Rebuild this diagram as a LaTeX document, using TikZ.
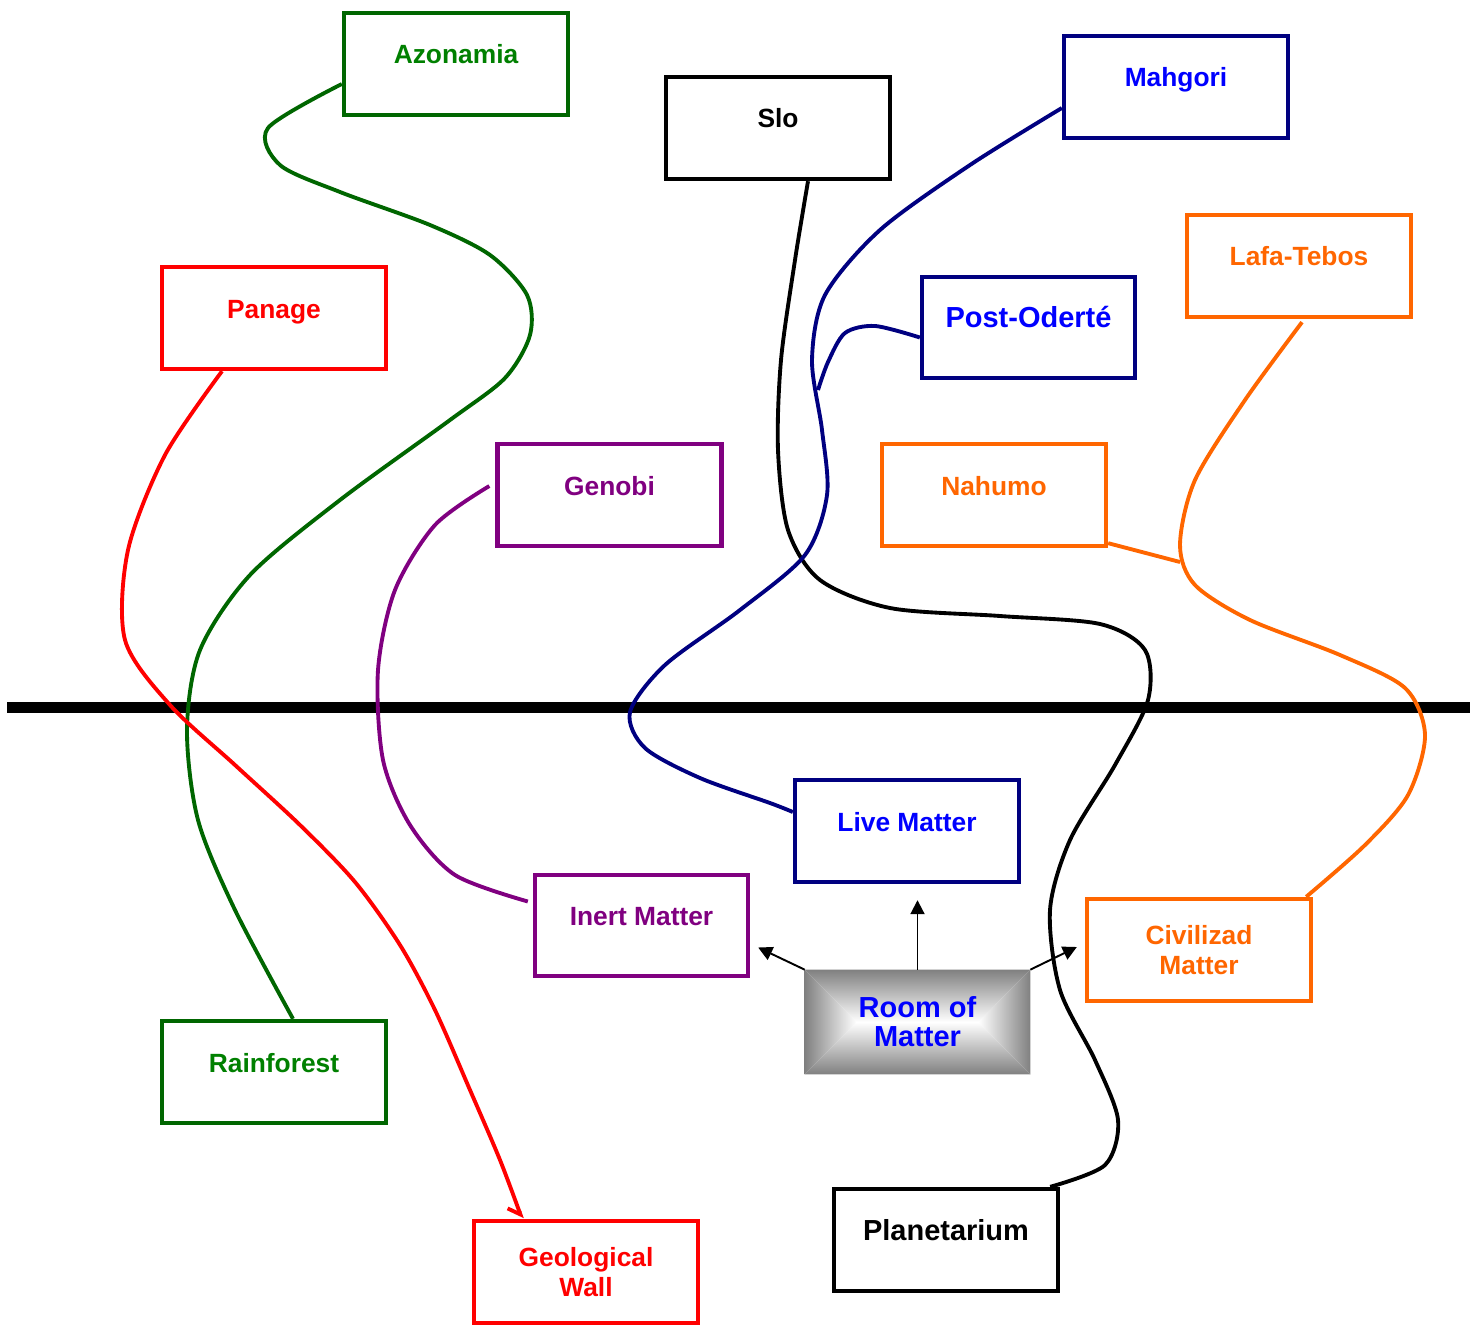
\documentclass[tikz,border=0pt]{standalone}
\usepackage{fontspec}
\setmainfont{Liberation Sans}
\setsansfont{Liberation Sans}
\usetikzlibrary{arrows.meta, calc, backgrounds}
\definecolor{cgreen}{RGB}{0,128,0}
\definecolor{cdgreen}{RGB}{0,102,0}
\definecolor{cnavy}{RGB}{0,0,128}
\definecolor{cblue}{RGB}{0,0,255}
\definecolor{cred}{RGB}{255,0,0}
\definecolor{corange}{RGB}{255,102,0}
\definecolor{cpurple}{RGB}{128,0,128}
\definecolor{cgrey}{RGB}{128,128,128}
\tikzset{
  every picture/.style={x=0.02cm, y=-0.02cm},
  frame/.style 2 args={draw=#1, text=#2, fill=white, line width=2.5pt, minimum width=4.48cm, minimum height=2.04cm,
    inner sep=0pt, align=center, font=\sffamily\bfseries\fontsize{15}{17}\selectfont},
  box/.style 2 args={frame={#1}{#2}, text height=1em, text depth=1em},
  narrow/.style={minimum width=4.26cm, minimum height=2.02cm},
  big/.style={font=\sffamily\bfseries\fontsize{16.5}{16.5}\selectfont},
  room/.style={minimum width=4.5cm, minimum height=2.08cm, inner sep=0pt, align=center, text=cblue, big},
  wire/.style={draw=#1, line width=2.2pt},
  arrow/.style={-{Triangle[length=0.28cm, width=0.28cm]}, line width=1.1pt},
}
\begin{document}
\begin{tikzpicture}
  \useasboundingbox (0,0) rectangle (1479,1324);
  % divider
  \coordinate (barL) at (7,707.5);
  \coordinate (barR) at (1470,707.5);
  \draw[line width=0.23cm] (barL) -- (barR);
  % upper boxes
  \node[box={cdgreen}{cgreen}] (azo) at (456,64) {Azonamia};
  \node[box={black}{black}] (slo) at (778,128) {Slo};
  \node[box={cnavy}{cblue}] (mah) at (1176,87) {Mahgori};
  \node[box={cred}{cred}] (pan) at (274,318) {Panage};
  \node[box={corange}{corange}] (lafa) at (1299,266) {Lafa-Tebos};
  \node[box={cnavy}{cblue}, narrow, big] (post) at (1028.5,327.5) {Post-Oderté};
  \node[box={cpurple}{cpurple}] (gen) at (609.5,495) {Genobi};
  \node[box={corange}{corange}] (nah) at (994,495) {Nahumo};
  % lower boxes
  \node[box={cnavy}{cblue}] (live) at (907,831) {Live Matter};
  \node[box={cpurple}{cpurple}, narrow] (inert) at (641.5,925.5) {Inert Matter};
  \node[frame={corange}{corange}] (civ) at (1199,950) {Civilizad\\Matter};
  \node[box={cdgreen}{cgreen}] (rain) at (274,1072) {Rainforest};
  \node[box={black}{black}, big] (plan) at (946,1240) {Planetarium};
  \node[frame={cred}{cred}] (geo) at (586,1272) {Geological\\Wall};
  \node[room] (room) at (917.5,1022) {Room of\\Matter};
  \begin{scope}[on background layer]
    \coordinate (roomL) at ($(room.west)+(52,0)$);
    \coordinate (roomR) at ($(room.east)+(-52,0)$);
    \shade[top color=cgrey, bottom color=white] (room.north west) -- (room.north east) -- (roomR) -- (roomL) -- cycle;
    \shade[top color=white, bottom color=cgrey] (room.south west) -- (room.south east) -- (roomR) -- (roomL) -- cycle;
    \shade[left color=cgrey, right color=white] (room.north west) -- (roomL) -- (room.south west) -- cycle;
    \shade[left color=white, right color=cgrey] (room.north east) -- (roomR) -- (room.south east) -- cycle;
  \end{scope}
  % green
  \coordinate (azoOut) at ($(azo.west)+(0,20)$);
  \coordinate (rainIn) at ($(rain.north)+(19,0)$);
  \draw[wire=cdgreen] plot[smooth] coordinates {(azoOut) (268,128) (280,165) (340,192) (430,225) (490,255)
    (527,295) (530,335) (505,378) (450,420) (340,500) (250,575) (200,650) (187,730) (198,820) (235,910) (rainIn)};
  % red
  \coordinate (panOut) at ($(pan.south)+(-52,0)$);
  \coordinate (geoIn) at ($(geo.north)+(-64,0)$);
  \draw[wire=cred, -{Straight Barb[right, length=0.2cm, width=0.4cm]}] plot[smooth] coordinates {(panOut) (165,455)
    (128,550) (125,640) (170,705) (235,765) (300,825) (355,882) (400,945) (435,1010) (470,1090) (500,1160) (geoIn)};
  % purple
  \coordinate (genOut) at ($(gen.west)+(-6,-9)$);
  \coordinate (inertIn) at ($(inert.west)+(-5,-24)$);
  \draw[wire=cpurple] plot[smooth] coordinates {(genOut) (435,525) (395,590) (378,670) (383,760) (410,825)
    (455,875) (inertIn)};
  % black
  \coordinate (sloOut) at ($(slo.south)+(30,0)$);
  \coordinate (planIn) at ($(plan.north east)+(-10,0)$);
  \draw[wire=black] plot[smooth] coordinates {(sloOut) (795,260) (781,360) (778,450) (788,530) (820,580)
    (890,608) (1000,616) (1100,624) (1145,650) (1148,700) (1115,765) (1070,840) (1050,910) (1060,990)
    (1095,1060) (1118,1120) (1105,1165) (planIn)};
  % navy
  \coordinate (mahOut) at ($(mah.west)+(0,21)$);
  \coordinate (liveIn) at ($(live.west)+(0,-19)$);
  \draw[wire=cnavy] plot[smooth] coordinates {(mahOut) (970,165) (880,230) (825,295) (812,360) (822,430)
    (827,495) (805,555) (740,610) (665,665) (630,712) (645,748) (700,778) (770,803) (liveIn)};
  \coordinate (postOut) at ($(post.west)+(0,10)$);
  \coordinate (mahJoin) at (818,390);
  \draw[wire=cnavy] plot[smooth] coordinates {(postOut) (875,326) (845,333) (828,362) (mahJoin)};
  % orange
  \coordinate (lafaOut) at ($(lafa.south)+(3,3)$);
  \coordinate (civIn) at ($(civ.north east)+(-7,0)$);
  \draw[wire=corange] plot[smooth] coordinates {(lafaOut) (1245,400) (1195,480) (1180,545) (1195,585)
    (1250,620) (1340,655) (1405,688) (1425,735) (1408,795) (1365,845) (civIn)};
  \coordinate (nahOut) at ($(nah.south east)+(0,-5)$);
  \coordinate (lafaJoin) at (1180,562);
  \draw[wire=corange] (nahOut) -- (lafaJoin);
  % room arrows
  \draw[arrow] (room.north) -- ($(room.north |- live.south)+(0,16)$);
  \draw[arrow] (room.north west) -- ($(inert.east)+(8,22)$);
  \draw[arrow] (room.north east) -- ($(civ.west)+(-8,-3)$);
\end{tikzpicture}
\end{document}
